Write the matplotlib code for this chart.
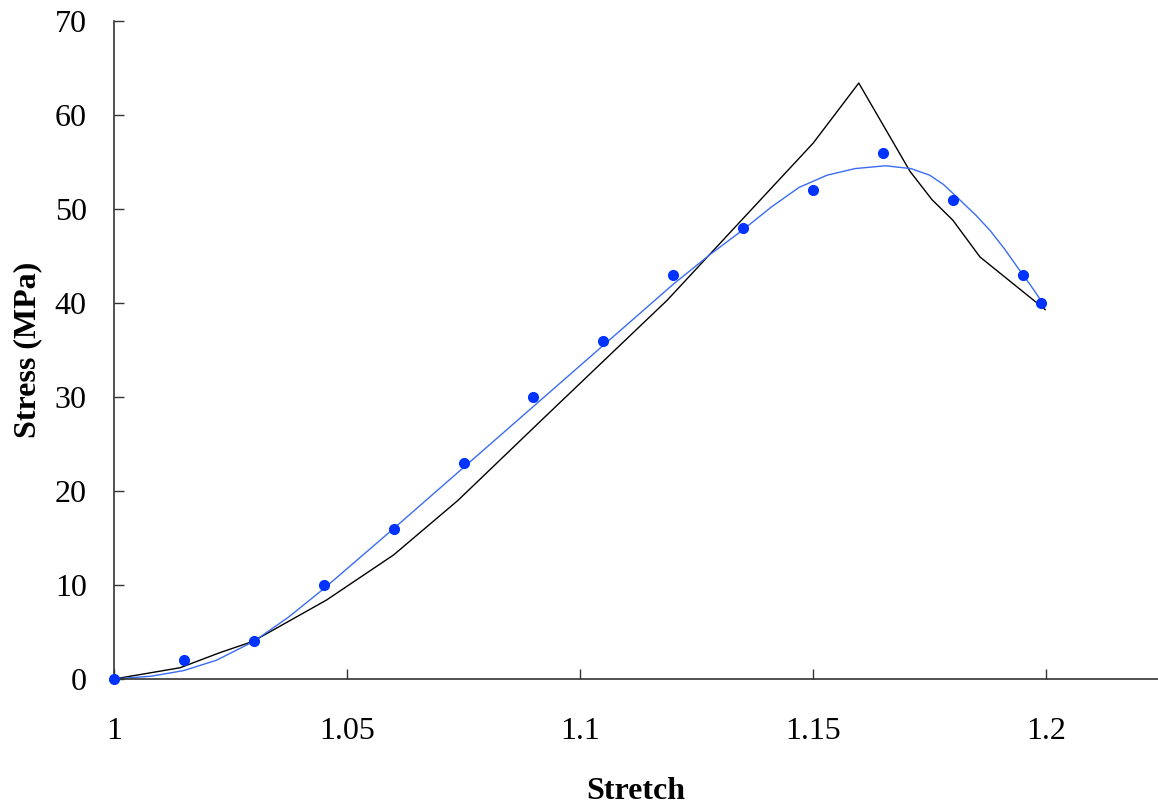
import matplotlib.pyplot as plt

OUTPUT = "out.png"

# measured points
stretch_pts = [1.0, 1.015, 1.03, 1.045, 1.06, 1.075, 1.09, 1.105, 1.12,
               1.135, 1.15, 1.165, 1.18, 1.195, 1.199]
stress_pts = [0, 2, 4, 10, 16, 23, 30, 36, 43, 48, 52, 56, 51, 43, 40]

# fitted curve (blue)
stretch_fit = [1.0, 1.008, 1.015, 1.022, 1.03, 1.0375, 1.045, 1.0525, 1.06,
               1.075, 1.09, 1.105, 1.12, 1.128, 1.135, 1.141, 1.147, 1.153,
               1.159, 1.1655, 1.171, 1.175, 1.178, 1.181, 1.185, 1.188,
               1.191, 1.194, 1.1965, 1.199]
stress_fit = [0, 0.3, 0.9, 2.0, 4.0, 6.6, 9.6, 12.8, 16.0,
              22.5, 29.0, 35.5, 42.0, 45.2, 47.8, 50.2, 52.3, 53.6,
              54.3, 54.6, 54.3, 53.6, 52.6, 51.2, 49.3, 47.7,
              45.8, 43.7, 42.0, 40.2]

# model curve (black)
stretch_model = [1.0, 1.0142, 1.0227, 1.0298, 1.0456, 1.06, 1.0738, 1.0925,
                 1.1187, 1.135, 1.15, 1.1598, 1.1708, 1.1755, 1.180, 1.1858,
                 1.1998]
stress_model = [0, 1.2, 2.8, 4.0, 8.4, 13.2, 19.0, 27.9,
                40.3, 49.0, 57.0, 63.4, 54.0, 51.0, 48.8, 44.9,
                39.3]


def main():
    plt.rcParams["font.family"] = ["Liberation Serif", "DejaVu Serif"]
    fig = plt.figure(figsize=(11.58, 8.05), dpi=100)
    ax = fig.add_axes([0.0984, 0.1565, 0.9016, 0.8174])

    ax.plot(stretch_model, stress_model, color="black", lw=1.0)
    ax.plot(stretch_fit, stress_fit, color="#3a6cf4", lw=1.0)
    ax.plot(stretch_pts, stress_pts, "o", color="#0033ff", ms=7,
            mec="#0033ff", clip_on=False, zorder=4)

    ax.set_xlim(1.0, 1.224)
    ax.set_ylim(0, 70)
    ax.set_xticks([1.0, 1.05, 1.1, 1.15, 1.2])
    ax.set_xticklabels(["1", "1.05", "1.1", "1.15", "1.2"])
    ax.set_yticks(range(0, 71, 10))

    for side in ["top", "right"]:
        ax.spines[side].set_visible(False)
    for side in ["left", "bottom"]:
        ax.spines[side].set_color("#333333")
        ax.spines[side].set_linewidth(1.2)

    ax.tick_params(axis="both", direction="in", length=7, width=1,
                   color="#333333", labelsize=23)
    ax.tick_params(axis="x", pad=27)
    ax.tick_params(axis="y", pad=19.5)

    ax.set_xlabel("Stretch", fontsize=23, fontweight="bold", labelpad=23)
    ax.set_ylabel("Stress (MPa)", fontsize=23, fontweight="bold", labelpad=9)

    plt.savefig(OUTPUT, dpi=100)


if __name__ == "__main__":
    main()
